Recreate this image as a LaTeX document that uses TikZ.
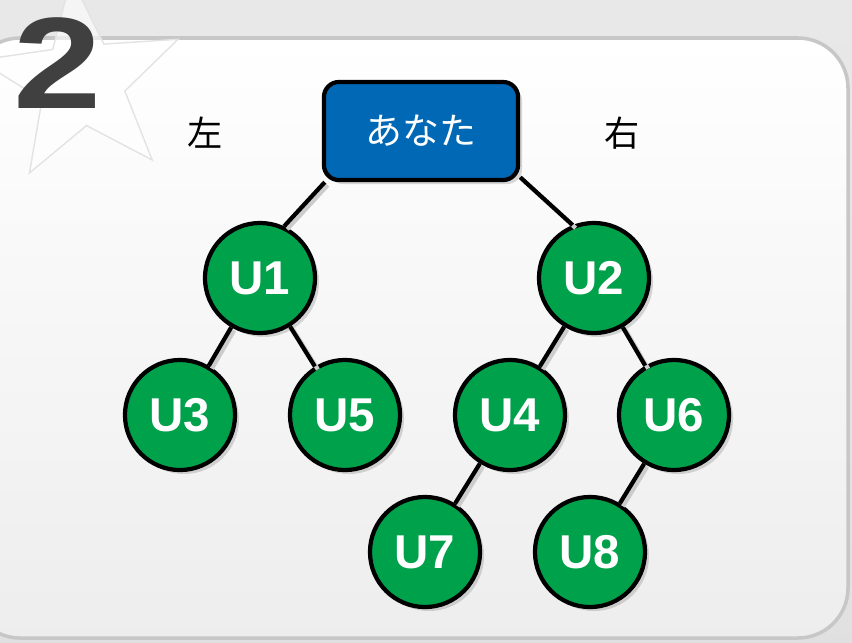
\documentclass[tikz,border=0pt]{standalone}
\usepackage{fontspec}
\setmainfont{Liberation Sans}
\newfontfamily\jpfont{Noto Sans CJK JP}
\usepackage{tikz}
\usetikzlibrary{shapes.geometric, shadows, positioning}
\definecolor{youblue}{RGB}{0,104,181}
\definecolor{usergreen}{RGB}{0,161,75}

\begin{document}
\begin{tikzpicture}[
    x=0.01cm, y=-0.01cm,
    you/.style={rectangle, draw=black, line width=1.2pt, fill=youblue,
                minimum width=1.94cm, minimum height=0.98cm, rounded corners=0.15cm,
                text=white, font=\jpfont\fontsize{10.5}{12}\selectfont,
                drop shadow={shadow xshift=0.04cm, shadow yshift=-0.04cm, opacity=0.3}},
    user/.style={circle, draw=black, line width=1.2pt, fill=usergreen,
                 minimum size=1.1cm, inner sep=0pt,
                 text=white, font=\bfseries\fontsize{13.5}{15}\selectfont,
                 drop shadow={shadow xshift=0.04cm, shadow yshift=-0.04cm, opacity=0.3}},
    side/.style={font=\jpfont\fontsize{10}{12}\selectfont},
    edge/.style={line width=1.2pt, black,
                 preaction={draw, black!20, line width=1.2pt,
                            transform canvas={shift={(0.03cm,-0.03cm)}}}},
    bignum/.style={font=\bfseries\fontsize{37}{40}\selectfont, text=black!75}
]
    \useasboundingbox (0,0) rectangle (852,642);
    % background and panel
    \fill[top color=black!9, bottom color=black!12] (0,0) rectangle (852,642);
    \draw[black!22, line width=1pt, top color=white, bottom color=black!7,
          rounded corners=0.5cm] (-30,38) rectangle (848,638);
    \node[star, star points=5, star point ratio=2.4, minimum size=2.1cm, rotate=6,
          draw=black!11, fill=white, fill opacity=0.6] (backstar) at (82,82) {};
    % the big number
    \node[bignum] (number) at (58,63) {\scalebox{1.22}[1]{2}};

    % tree
    \node[you] (root) at (421,131) {あなた};
    \node[side] (left) at (205,133) {左};
    \node[side] (right) at (622,133) {右};

    \node[user] (u1) at (260,278) {U1};
    \node[user] (u2) at (594,278) {U2};
    \node[user] (u3) at (180,415) {U3};
    \node[user] (u5) at (345,415) {U5};
    \node[user] (u4) at (510,415) {U4};
    \node[user] (u6) at (674,415) {U6};
    \node[user] (u7) at (425,552) {U7};
    \node[user] (u8) at (590,552) {U8};

    \draw[edge] (root.-152) -- (u1.65);
    \draw[edge] (root.-25) -- (u2.112);
    \draw[edge] (u1) -- (u3);
    \draw[edge] (u1) -- (u5);
    \draw[edge] (u2) -- (u4);
    \draw[edge] (u2) -- (u6);
    \draw[edge] (u4) -- (u7);
    \draw[edge] (u6) -- (u8);
\end{tikzpicture}
\end{document}
